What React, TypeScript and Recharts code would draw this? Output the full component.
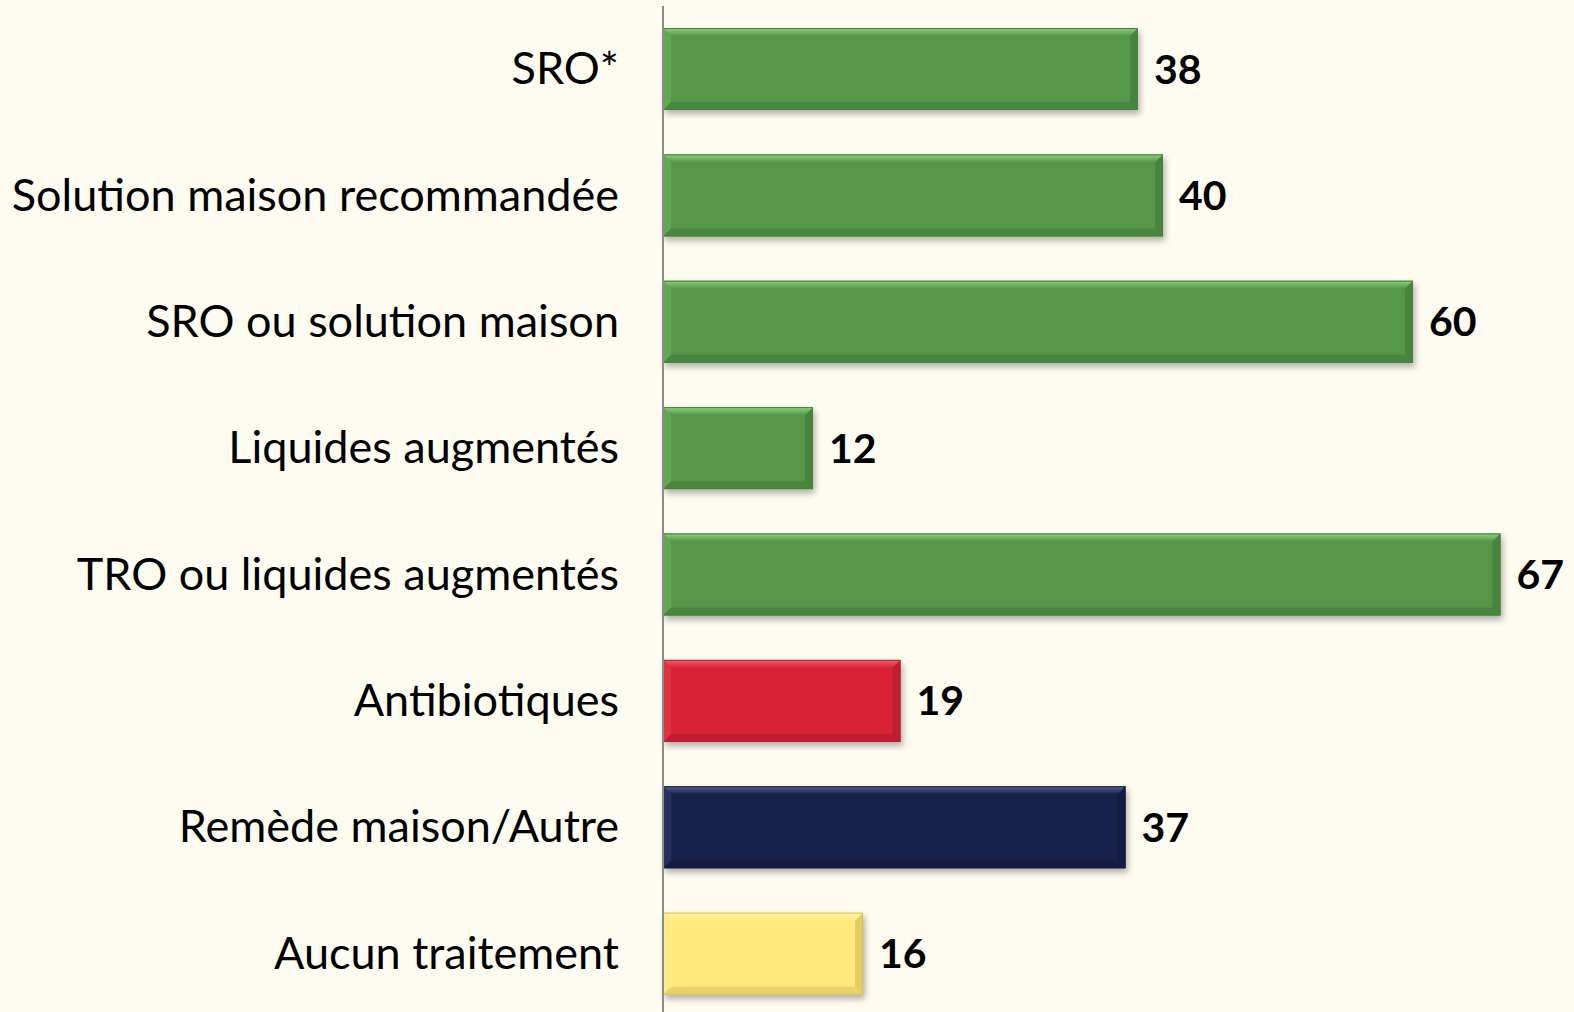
import { Bar, BarChart, XAxis, YAxis, Cell, LabelList } from 'recharts';

const categories = [
  'SRO*',
  'Solution maison recommandée',
  'SRO ou solution maison',
  'Liquides augmentés',
  'TRO ou liquides augmentés',
  'Antibiotiques',
  'Remède maison/Autre',
  'Aucun traitement',
];
const values = [38, 40, 60, 12, 67, 19, 37, 16];

const palette = ['green', 'green', 'green', 'green', 'green', 'red', 'navy', 'yellow'];

const tones: Record<string, { main: string; light: string; dark: string; edge: string }> = {
  green: { main: '#549749', light: '#8ed27f', dark: '#3d7034', edge: '#467f3b' },
  red: { main: '#d92436', light: '#f5606c', dark: '#a3192a', edge: '#b41e2d' },
  navy: { main: '#18234b', light: '#56648f', dark: '#0f1733', edge: '#141d3e' },
  yellow: { main: '#ffe97a', light: '#fff4a8', dark: '#c9b24c', edge: '#d8c05e' },
};

const data = categories.map((name, i) => ({ name, value: values[i], tone: palette[i] }));

const BevelBar = (props: any) => {
  const { x, y, width, height, payload, index } = props;
  const t = tones[payload.tone];
  const b = 8;
  const r = x + width;
  const btm = y + height;
  const gid = `topGrad${index}`;
  return (
    <g filter="url(#barShadow)">
      <defs>
        <linearGradient id={gid} x1="0" y1="0" x2="0" y2="1">
          <stop offset="0%" stopColor={t.light} />
          <stop offset="100%" stopColor={t.main} />
        </linearGradient>
      </defs>
      <rect x={x} y={y} width={width} height={height} fill={t.main} />
      <polygon points={`${x},${y} ${r},${y} ${r - b},${y + b} ${x + b},${y + b}`} fill={`url(#${gid})`} />
      <polygon points={`${x},${btm} ${r},${btm} ${r - b},${btm - b} ${x + b},${btm - b}`} fill={t.dark} opacity={0.4} />
      <polygon points={`${x},${y} ${x + b},${y + b} ${x + b},${btm - b} ${x},${btm}`} fill={t.light} opacity={0.25} />
      <polygon points={`${r},${y} ${r - b},${y + b} ${r - b},${btm - b} ${r},${btm}`} fill={t.dark} opacity={0.5} />
      <rect x={x + 0.5} y={y + 0.5} width={width - 1} height={height - 1} fill="none" stroke={t.edge} strokeWidth={1} />
    </g>
  );
};

const CategoryTick = (props: any) => {
  const { x, y, payload } = props;
  return (
    <text x={x - 36} y={y} dy={15} textAnchor="end" fontFamily="Lato, sans-serif" fontSize={45} fill="#000">
      {payload.value}
    </text>
  );
};

export default function App() {
  return (
    <div style={{ position: 'absolute', left: 0, top: 0, width: 1574, height: 1012, overflow: 'hidden', background: '#fefcf0' }}>
      <BarChart
        width={1574}
        height={1022}
        data={data}
        layout="vertical"
        margin={{ top: 6, right: 11, left: 0, bottom: 5 }}
      >
        <defs>
          <filter id="barShadow" x="-5%" y="-20%" width="115%" height="150%">
            <feDropShadow dx={2} dy={4} stdDeviation={3} floodColor="#000" floodOpacity={0.3} />
          </filter>
        </defs>
        <XAxis type="number" domain={[0, 72]} hide />
        <YAxis
          type="category"
          dataKey="name"
          width={663}
          tickLine={false}
          axisLine={{ stroke: '#8c8c8c', strokeWidth: 2 }}
          tick={<CategoryTick />}
          interval={0}
        />
        <Bar dataKey="value" barSize={82} shape={<BevelBar />} isAnimationActive={false}>
          {data.map((d, i) => (
            <Cell key={i} fill={tones[d.tone].main} />
          ))}
          <LabelList
            dataKey="value"
            position="right"
            offset={16}
            style={{ fontFamily: 'Lato, sans-serif', fontWeight: 700, fontSize: 41, fill: '#000' }}
          />
        </Bar>
      </BarChart>
    </div>
  );
}
